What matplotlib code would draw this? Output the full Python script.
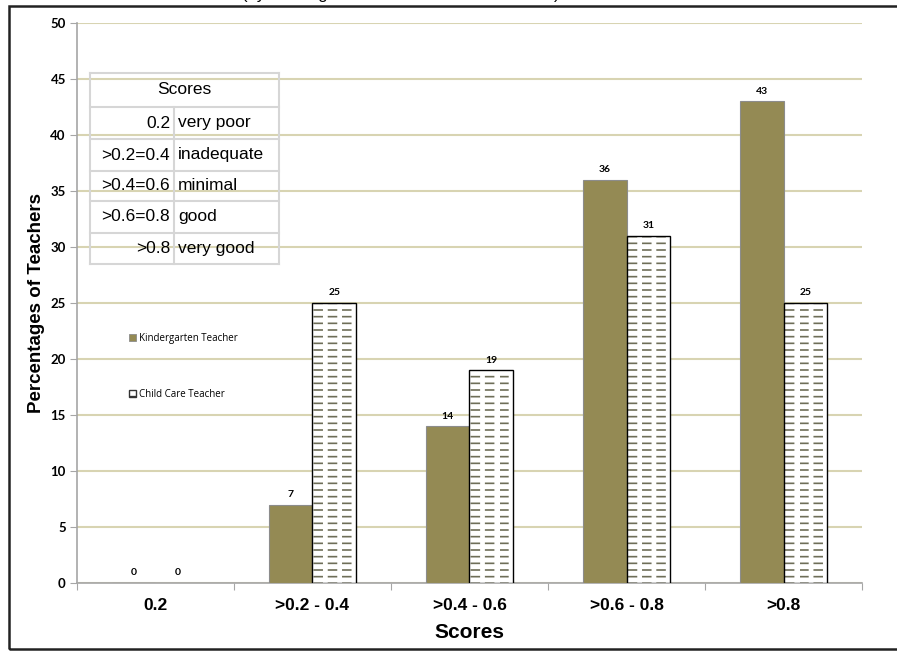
import numpy as np
import matplotlib
matplotlib.use("Agg")
import matplotlib.pyplot as plt
import matplotlib.hatch as mhatch
from matplotlib.path import Path
from matplotlib.patches import Patch, Rectangle

# data
categories = ['0.2', '>0.2 - 0.4', '>0.4 - 0.6', '>0.6 - 0.8', '>0.8']
kindergarten = [0, 7, 14, 36, 43]
child_care = [0, 25, 19, 31, 25]
series_names = ['Kindergarten Teacher', 'Child Care Teacher']
score_ranges = ['0.2', '>0.2=0.4', '>0.4=0.6', '>0.6=0.8', '>0.8']
score_names = ['very poor', 'inadequate', 'minimal', 'good', 'very good']


# dashed horizontal hatch (replaces the plain '-' hatch)
class DashedHorizontalHatch(mhatch.HatchPatternBase):
    def __init__(self, hatch, density):
        self.rows = 15 if '-' in hatch else 0
        self.cols = 7
        self.num_vertices = self.rows * self.cols * 2

    def set_vertices_and_codes(self, vertices, codes):
        ys = (np.arange(self.rows) + 0.5) / self.rows
        xs = np.arange(self.cols) / self.cols
        dash = 0.55 / self.cols
        k = 0
        for y in ys:
            for x in xs:
                vertices[k] = (x, y)
                vertices[k + 1] = (x + dash, y)
                codes[k] = Path.MOVETO
                codes[k + 1] = Path.LINETO
                k += 2


for i, h in enumerate(mhatch._hatch_types):
    if h is mhatch.HorizontalHatch:
        mhatch._hatch_types[i] = DashedHorizontalHatch

plt.rcParams['hatch.linewidth'] = 1.2

olive = '#948a54'
hatch_col = '#6e6e58'
grid_col = '#d8d4b2'
axis_col = '#a6a6a6'

fig = plt.figure(figsize=(8.97, 6.51), dpi=100)
ax = fig.add_axes([0.0858, 0.1045, 0.8752, 0.8602])

x = np.arange(len(categories))
w = 0.28
b1 = ax.bar(x - w / 2, kindergarten, w, color=olive, edgecolor='#8c8c8c',
            linewidth=0.8, zorder=3)
ax.bar(x + w / 2, child_care, w, color='white', edgecolor=hatch_col,
       hatch='-', linewidth=0, zorder=3)
# outline only where the bar has height
outline_lw = [1.0 if v > 0 else 0 for v in child_care]
b2 = ax.bar(x + w / 2, child_care, w, fill=False, edgecolor='black',
            linewidth=outline_lw, zorder=4)

lab_font = dict(family='Lato', fontweight='bold', fontsize=7.5)
ax.bar_label(b1, padding=4, **lab_font)
ax.bar_label(b2, padding=4, **lab_font)

ax.set_xlim(-0.5, len(categories) - 0.5)
ax.set_ylim(0, 50)
ax.set_yticks(np.arange(0, 51, 5))
ax.set_xticks(np.arange(-0.5, len(categories), 1))
ax.set_xticklabels([])
ax.set_xticks(x, minor=True)
ax.set_xticklabels(categories, minor=True, fontsize=12.5, fontweight='bold',
                   family='Liberation Sans')
ax.tick_params(axis='x', which='minor', length=0, pad=11)
ax.tick_params(axis='x', which='major', length=5, color=axis_col)
ax.tick_params(axis='y', length=5, color=axis_col, pad=3)
for t in ax.get_yticklabels():
    t.set_family('Lato')
    t.set_fontweight('bold')
    t.set_fontsize(9.5)

ax.yaxis.grid(True, color=grid_col, linewidth=1.5, zorder=0)
ax.set_axisbelow(True)
for s in ['top', 'right']:
    ax.spines[s].set_visible(False)
for s in ['left', 'bottom']:
    ax.spines[s].set_color(axis_col)
    ax.spines[s].set_linewidth(1.2)

ax.set_xlabel('Scores', fontsize=15, fontweight='bold', family='Liberation Sans',
              labelpad=7)
ax.set_ylabel('Percentages of Teachers', fontsize=13.5, fontweight='bold',
              family='Liberation Sans', labelpad=4)

# legend
handles = [Patch(facecolor=olive, edgecolor='#8c8c8c', linewidth=0.6),
           Patch(facecolor='white', edgecolor='#333333', hatch='-', linewidth=1.0)]
ax.legend(handles, series_names, loc='upper left', bbox_to_anchor=(0.055, 0.462),
          frameon=False, handlelength=0.75, handleheight=0.75, handletextpad=0.25,
          labelspacing=4.6, prop=dict(family='Open Sans', size=7))

# scores table (transparent, gridlines show through)
tx0, tx1, tx2 = 90, 174, 279
ty0 = 73
row_h = [34, 32, 32, 30, 32, 31]
edges = np.cumsum([ty0] + row_h)


def fx(px):
    return px / 897


def fy(py):
    return 1 - py / 651


tcol = '#d6d6d6'
for ey in edges:
    fig.add_artist(plt.Line2D([fx(tx0), fx(tx2)], [fy(ey), fy(ey)], color=tcol, lw=1.5))
fig.add_artist(plt.Line2D([fx(tx0), fx(tx0)], [fy(edges[0]), fy(edges[-1])], color=tcol, lw=1.5))
fig.add_artist(plt.Line2D([fx(tx2), fx(tx2)], [fy(edges[0]), fy(edges[-1])], color=tcol, lw=1.5))
fig.add_artist(plt.Line2D([fx(tx1), fx(tx1)], [fy(edges[1]), fy(edges[-1])], color=tcol, lw=1.5))

tfont = dict(family='Liberation Sans', fontsize=12.5)
fig.text(fx((tx0 + tx2) / 2), fy((edges[0] + edges[1]) / 2), 'Scores',
         ha='center', va='center', **tfont)
for i in range(len(score_ranges)):
    cy = fy((edges[i + 1] + edges[i + 2]) / 2)
    fig.text(fx(tx1 - 4), cy, score_ranges[i], ha='right', va='center', **tfont)
    fig.text(fx(tx1 + 4), cy, score_names[i], ha='left', va='center', **tfont)

# clipped title at the very top (only descenders show, as in the original)
fig.text(0.447, 1.0015, '(by Kindergarten and Child Care Teachers)', ha='center',
         va='baseline', fontsize=12, family='Liberation Sans')

# outer frame
fig.add_artist(Rectangle((fx(9), fy(649)), 1.05, fy(6) - fy(649), fill=False,
                         edgecolor='#222222', linewidth=1.8, transform=fig.transFigure))

fig.savefig('out.png', dpi=100)
